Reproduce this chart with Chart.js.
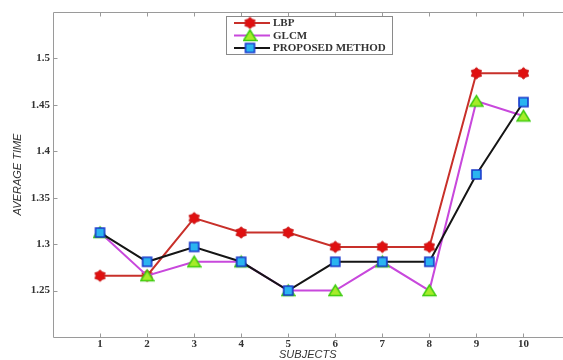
<!DOCTYPE html>
<html>
<head>
<meta charset="utf-8">
<script src="https://cdn.jsdelivr.net/npm/chart.js@4.4.0/dist/chart.umd.min.js"></script>
<style>
  html, body { margin: 0; padding: 0; background: #fff; overflow: hidden; }
  #wrap { width: 563px; height: 360px; }
  #myChart { display: block; }
</style>
</head>
<body>
<div id="wrap"><canvas id="myChart" width="563" height="360"></canvas></div>
<script>
// values
const subjects = [1, 2, 3, 4, 5, 6, 7, 8, 9, 10];
const lbp      = [1.266, 1.266, 1.328, 1.3125, 1.3125, 1.297, 1.297, 1.297, 1.484, 1.484];
const glcm     = [1.3125, 1.266, 1.281, 1.281, 1.25, 1.25, 1.281, 1.25, 1.454, 1.438];
const proposed = [1.3125, 1.281, 1.297, 1.281, 1.25, 1.281, 1.281, 1.281, 1.375, 1.453];
const yTickLabels = [1.25, 1.3, 1.35, 1.4, 1.45, 1.5];
const seriesNames = ['LBP', 'GLCM', 'PROPOSED METHOD'];

function makeMarker(kind) {
  let c = document.createElement('canvas');
  c.width = 15; c.height = 15;
  let g = c.getContext('2d');
  let cx = 7.5, cy = 7.5;
  g.beginPath();
  if (kind == 'hex') {
    // six pointed star
    for (let i = 0; i < 12; i++) {
      let r = (i % 2 == 0) ? 5.8 : 4.2;
      let a = Math.PI / 6 * i - Math.PI / 2;
      let px = cx + r * Math.cos(a), py = cy + r * Math.sin(a);
      if (i == 0) g.moveTo(px, py); else g.lineTo(px, py);
    }
    g.closePath();
    g.fillStyle = '#e01010';
    g.fill();
    g.strokeStyle = '#c81818';
    g.lineWidth = 1;
    g.stroke();
  } else if (kind == 'tri') {
    g.moveTo(cx, 2);
    g.lineTo(cx + 6.5, 12.5);
    g.lineTo(cx - 6.5, 12.5);
    g.closePath();
    g.fillStyle = '#a6ec2a';
    g.fill();
    g.strokeStyle = '#3fcc10';
    g.lineWidth = 1.5;
    g.stroke();
  } else {
    g.rect(cx - 4.5, cy - 4.5, 9, 9);
    g.fillStyle = '#2ab4f0';
    g.fill();
    g.strokeStyle = '#1a3acc';
    g.lineWidth = 1.6;
    g.stroke();
  }
  return c;
}

const markers = [makeMarker('hex'), makeMarker('tri'), makeMarker('sq')];
const lineColors = ['#c8302a', '#c848dc', '#151515'];

function toPoints(values) {
  return subjects.map(function(s, i) { return { x: s, y: values[i] }; });
}

const frameAndLegend = {
  id: 'frameAndLegend',
  afterDraw(chart) {
    let ctx = chart.ctx;
    let a = chart.chartArea;
    let xs = chart.scales.x, ys = chart.scales.y;
    let top = Math.round(a.top) + 0.5, bottom = Math.round(a.bottom) + 0.5, left = Math.round(a.left) + 0.5;
    ctx.save();
    ctx.strokeStyle = '#9a9a9a';
    ctx.lineWidth = 1;
    ctx.beginPath();
    ctx.moveTo(chart.width, top);
    ctx.lineTo(left, top);
    ctx.lineTo(left, bottom);
    ctx.lineTo(chart.width, bottom);
    ctx.stroke();
    // inward ticks
    ctx.beginPath();
    subjects.forEach(function(s) {
      let px = Math.round(xs.getPixelForValue(s)) + 0.5;
      ctx.moveTo(px, bottom); ctx.lineTo(px, bottom - 4);
      ctx.moveTo(px, top); ctx.lineTo(px, top + 4);
    });
    yTickLabels.forEach(function(v) {
      let py = Math.round(ys.getPixelForValue(v)) + 0.5;
      ctx.moveTo(left, py); ctx.lineTo(left + 4, py);
    });
    ctx.stroke();

    // legend box
    let bx = 226.5, by = 16.5, bw = 166, bh = 38;
    ctx.fillStyle = '#fff';
    ctx.fillRect(bx, by, bw, bh);
    ctx.strokeStyle = '#8a8a8a';
    ctx.strokeRect(bx, by, bw, bh);
    ctx.font = 'bold 11px "Liberation Serif"';
    ctx.textBaseline = 'middle';
    ctx.fillStyle = '#333';
    for (let i = 0; i < seriesNames.length; i++) {
      let ly = 23 + i * 12.5;
      ctx.strokeStyle = lineColors[i];
      ctx.lineWidth = 2;
      ctx.beginPath();
      ctx.moveTo(234, ly); ctx.lineTo(270, ly);
      ctx.stroke();
      ctx.drawImage(markers[i], 250 - 7.5, ly - 7.5);
      ctx.fillText(seriesNames[i], 273, ly + 0.5);
    }
    ctx.restore();
  }
};

const ctx = document.getElementById('myChart').getContext('2d');

const pointOpts = { pointRadius: 0.5, pointBorderWidth: 0, pointHoverRadius: 0.5, pointHoverBorderWidth: 0 };

new Chart(ctx, {
  type: 'line',
  data: {
    datasets: [
      Object.assign({ label: seriesNames[0], data: toPoints(lbp), borderColor: lineColors[0], borderWidth: 2,
        pointStyle: markers[0], order: 3 }, pointOpts),
      Object.assign({ label: seriesNames[1], data: toPoints(glcm), borderColor: lineColors[1], borderWidth: 2,
        pointStyle: markers[1], order: 2 }, pointOpts),
      Object.assign({ label: seriesNames[2], data: toPoints(proposed), borderColor: lineColors[2], borderWidth: 2,
        pointStyle: markers[2], order: 1 }, pointOpts)
    ]
  },
  options: {
    responsive: false,
    animation: false,
    tension: 0,
    layout: { padding: { top: 12, right: 0, left: 0, bottom: 0 } },
    plugins: { legend: { display: false }, tooltip: { enabled: false } },
    scales: {
      x: {
        type: 'linear',
        min: 0,
        max: 10.83,
        grid: { display: false, drawTicks: false },
        border: { display: false },
        afterFit: function(s) { s.height = 23; s.paddingLeft = 0; s.paddingRight = 0; },
        ticks: {
          stepSize: 1,
          includeBounds: false,
          autoSkip: false,
          maxRotation: 0,
          padding: 1,
          color: '#333',
          font: { family: 'Liberation Serif', size: 11, weight: 'bold' },
          callback: function(v) { return subjects.includes(v) ? String(v) : ''; }
        },
        title: {
          display: true,
          text: 'SUBJECTS',
          color: '#333',
          padding: 0,
          font: { family: 'Liberation Sans', size: 11, style: 'italic', lineHeight: 1 }
        }
      },
      y: {
        min: 1.2,
        max: 1.55,
        grid: { display: false, drawTicks: false },
        border: { display: false },
        afterFit: function(s) { s.width = 53; s.paddingTop = 0; s.paddingBottom = 0; },
        ticks: {
          stepSize: 0.05,
          includeBounds: false,
          padding: 3,
          color: '#333',
          font: { family: 'Liberation Serif', size: 11, weight: 'bold' },
          callback: function(v) {
            let r = Math.round(v * 100) / 100;
            return yTickLabels.includes(r) ? String(r) : '';
          }
        },
        title: {
          display: true,
          text: 'AVERAGE TIME',
          color: '#333',
          padding: { top: 12, bottom: 0 },
          font: { family: 'Liberation Sans', size: 11, style: 'italic', lineHeight: 1 }
        }
      }
    }
  },
  plugins: [frameAndLegend]
});
</script>
</body>
</html>
